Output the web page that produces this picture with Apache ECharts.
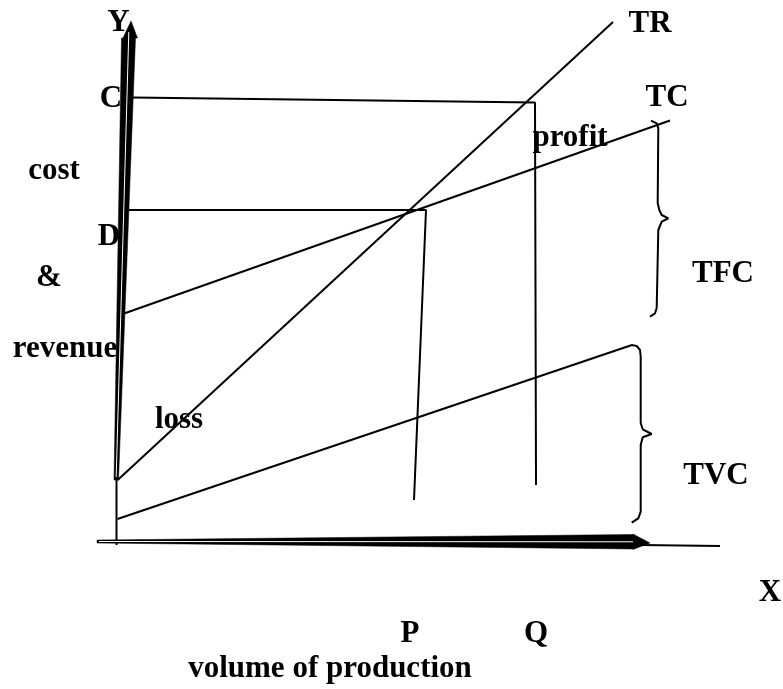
<!DOCTYPE html>
<html><head><meta charset="utf-8">
<script src="https://cdn.jsdelivr.net/npm/echarts@6/dist/echarts.min.js"></script>
<style>html,body{margin:0;padding:0;background:#fff}#c{width:783px;height:689px}</style>
</head><body><div id="c"></div>
<script>
// Diagram geometry (x to the right, y downward, picture units)
const trLine  = [[117.7, 480], [613, 22]];
const tcLine  = [[117, 316], [670, 120.5]];
const tvcLine = [[117.5, 519], [632, 345]];
const cLevel  = [[133, 97.5], [535, 102.5], [536, 485]];
const dLevel  = [[129, 210], [426, 210], [414, 500]];
const yAxisBase = [[116.5, 480], [116.5, 545]];
const xAxisTail = [[640, 545], [720, 546]];
const yArrow = [[114, 480], [121.5, 38], [123, 38], [131, 21], [137.5, 38], [135.5, 38], [118.5, 480]];
const yArrowCore = [[116.2, 477], [128.8, 32]];
const xArrow = [[97, 540], [633, 534.5], [633, 534], [650, 543], [633, 549.5], [633, 549], [97, 543]];
const xArrowCore = [[99, 541.5], [633, 541.8]];
const tfcBrace = [[651, 120.7], [656.7, 123.3], [658.3, 128.3], [657.7, 203], [659.3, 210], [661.7, 215], [668.3, 218.3],
                  [661.7, 221.7], [658.3, 230], [656.7, 308], [655, 313.3], [650, 316.7]];
const tvcBrace = [[631.7, 345], [636.7, 346], [640, 350], [640.7, 356.7], [640.7, 423], [642.7, 429.3], [651.7, 434],
                  [642.7, 437.3], [640.7, 445], [640.7, 511.7], [638.3, 518.3], [631.7, 522.7]];
const labelTexts = ['Y', 'TR', 'C', 'TC', 'profit', 'cost', 'D', '&', 'TFC', 'revenue', 'loss', 'TVC', 'X', 'P', 'Q', 'volume of production'];
const labelAnchors = [[118.5, 23], [650, 24], [111, 99], [667, 98], [570, 138], [54, 171], [109, 237], [49, 278],
                      [723, 274], [65, 349], [179, 420], [716, 476], [770, 593], [410, 634], [536, 634], [330, 669]];

const FONT = 'bold 31px "Liberation Serif", "Times New Roman", serif';

function polyline(data, width) {
  return { type: 'line', data: data, symbol: 'none', silent: true, clip: false,
           lineStyle: { color: '#000', width: width || 2 }, z: 3 };
}
function polygon(points, fill, z) {
  return { type: 'custom', data: [0], silent: true, clip: false, z: z,
    renderItem: function (params, api) {
      return { type: 'polygon', shape: { points: points.map(function (p) { return api.coord(p); }) },
               style: { fill: fill, stroke: fill, lineWidth: 0.5 } };
    } };
}

const chart = echarts.init(document.getElementById('c'));
chart.setOption({
  animation: false,
  backgroundColor: '#fff',
  grid: { left: 0, right: 0, top: 0, bottom: 0 },
  xAxis: { type: 'value', min: 0, max: 783, show: false },
  yAxis: { type: 'value', min: 0, max: 689, inverse: true, show: false },
  series: [
    polyline(trLine), polyline(tcLine), polyline(tvcLine),
    polyline(cLevel), polyline(dLevel),
    polyline(yAxisBase), polyline(xAxisTail),
    polyline(tfcBrace), polyline(tvcBrace),
    polygon(yArrow, '#000', 4),
    polygon(xArrow, '#000', 4),
    { type: 'line', data: yArrowCore, symbol: 'none', silent: true, z: 5, lineStyle: { color: '#fff', width: 1 } },
    { type: 'line', data: xArrowCore, symbol: 'none', silent: true, z: 5, lineStyle: { color: '#fff', width: 1 } },
    { type: 'custom', data: labelAnchors, encode: { x: 0, y: 1 }, silent: true, clip: false, z: 10,
      renderItem: function (params, api) {
        const p = api.coord([api.value(0), api.value(1)]);
        return { type: 'text', x: p[0], y: p[1],
                 style: { text: labelTexts[params.dataIndex], font: FONT, fill: '#000',
                          align: 'center', verticalAlign: 'middle' } };
      } }
  ]
});
</script></body></html>
